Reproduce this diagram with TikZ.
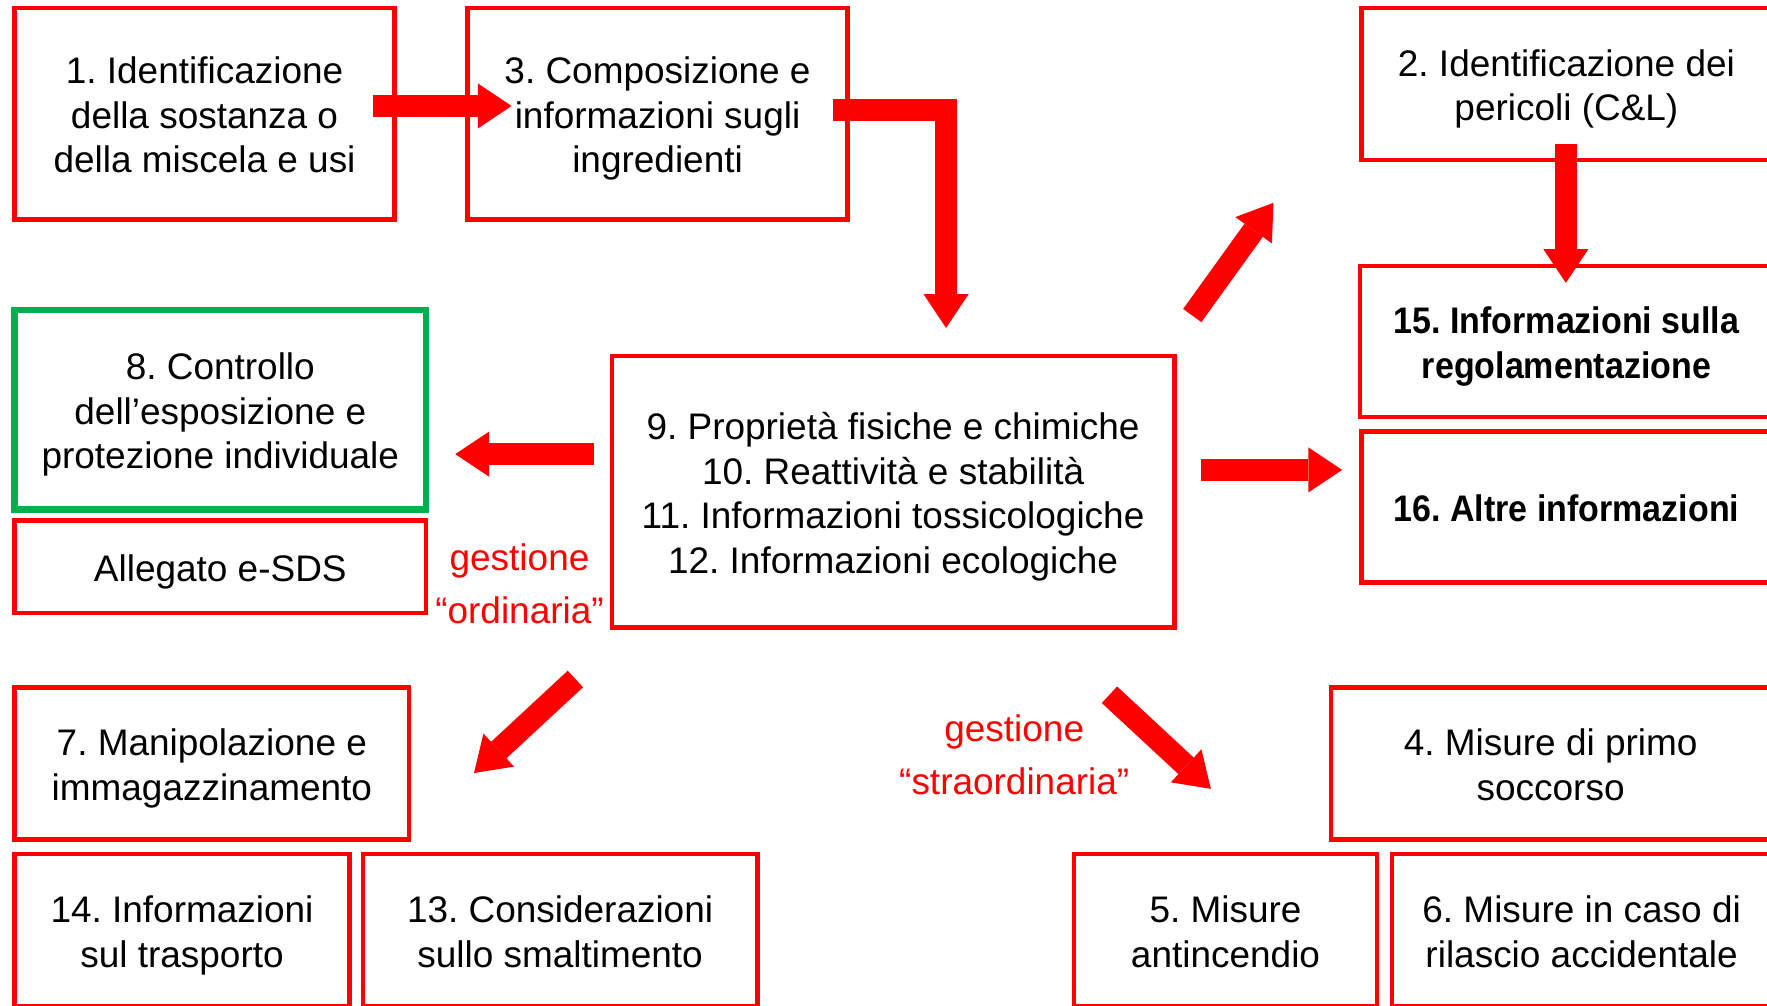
\documentclass[tikz,border=0pt]{standalone}
\usepackage{fontspec}
\setmainfont{Liberation Sans}
\newfontfamily\narrowbold{Liberation Sans}[FakeStretch=0.92]
\usetikzlibrary{positioning, arrows.meta}
\definecolor{sdsred}{rgb}{1,0,0}
\definecolor{sdsgreen}{rgb}{0,0.69,0.31}
\newcommand{\sdsstrut}{\rule{0pt}{17pt}}
\frenchspacing

\begin{document}
\begin{tikzpicture}[
  x=0.5pt, y=-0.5pt,
  every node/.style={
    align=center,
    inner sep=0pt,
    outer sep=0pt,
    font=\fontsize{16.4}{19.75}\selectfont,
    execute at end node={\rule[-4pt]{0pt}{4pt}},
  },
  box/.style={
    draw=sdsred,
    line width=2pt,
  },
  greenbox/.style={
    box,
    draw=sdsgreen,
    line width=3pt,
  },
  keybox/.style={
    box,
    font=\fontsize{16.4}{19.75}\selectfont\narrowbold\bfseries,
  },
  fatarrow/.style={
    draw=sdsred,
    line width=10pt,
    line join=miter,
    -{Triangle[length=15pt, width=20pt, line width=0pt, fill=sdsred]},
  },
  note/.style={
    text=sdsred,
    font=\fontsize{16.4}{23.5}\selectfont,
  },
]

\useasboundingbox (0,0) rectangle (1568,892);
\clip (0,0) rectangle (1568,892);

\node[box, minimum width=168.5pt, minimum height=94pt] (s1) at (181.5,101)
  {\sdsstrut 1. Identificazione\\della sostanza o\\della miscela e usi};
\node[box, minimum width=168.5pt, minimum height=94pt, right=32.5pt of s1] (s3)
  {\sdsstrut 3. Composizione e\\informazioni sugli\\ingredienti};
\node[box, minimum width=182pt, minimum height=67.5pt] (s2) at (1390,74.5)
  {\sdsstrut 2. Identificazione dei\\pericoli (C\&L)};
\node[keybox, minimum width=183pt, minimum height=67pt] (s15) at (1390,303)
  {\sdsstrut 15. Informazioni sulla\\regolamentazione};
\node[keybox, minimum width=182pt, minimum height=67pt, below=6.5pt of s15] (s16)
  {\sdsstrut 16. Altre informazioni};

\node[greenbox, minimum width=182.5pt, minimum height=88.5pt] (s8) at (195.5,363.5)
  {\sdsstrut 8. Controllo\\dell’esposizione e\\protezione individuale};
\node[box, minimum width=182.5pt, minimum height=41pt, below=5pt of s8] (esds)
  {\sdsstrut Allegato e-SDS};
\node[box, minimum width=249.5pt, minimum height=120.5pt] (core) at (792.5,436.5)
  {\sdsstrut 9. Proprietà fisiche e chimiche\\10. Reattività e stabilità\\11. Informazioni tossicologiche\\12. Informazioni ecologiche};

\node[box, minimum width=175pt, minimum height=67.5pt] (s7) at (188,677.5)
  {\sdsstrut 7. Manipolazione e\\immagazzinamento};
\node[box, minimum width=148.5pt, minimum height=67.5pt, below=6.5pt of s7.south west, anchor=north west] (s14)
  {\sdsstrut 14. Informazioni\\sul trasporto};
\node[box, minimum width=175pt, minimum height=67.5pt, right=6pt of s14] (s13)
  {\sdsstrut 13. Considerazioni\\sullo smaltimento};
\node[box, minimum width=195pt, minimum height=67.5pt] (s4) at (1376,677.5)
  {\sdsstrut 4. Misure di primo\\soccorso};
\node[box, minimum width=134.5pt, minimum height=67.5pt] (s5) at (1087.5,825.5)
  {\sdsstrut 5. Misure\\antincendio};
\node[box, minimum width=168.5pt, minimum height=67.5pt, right=6.5pt of s5] (s6)
  {\sdsstrut 6. Misure in caso di\\rilascio accidentale};

\node[note] (ordinaria) at (461,516.5) {\sdsstrut gestione\\“ordinaria”};
\node[note] (straordinaria) at (900,668.5) {\sdsstrut gestione\\“straordinaria”};

\coordinate (a1) at (331,94);
\coordinate (b1) at (454,94);
\coordinate (a2) at (739,97.5);
\coordinate (b2) at (839.5,291);
\coordinate (a3) at (1058,280);
\coordinate (b3) at (1130,180);
\coordinate (a4) at (1389.5,128);
\coordinate (b4) at (1389.5,251);
\coordinate (a5) at (527,403);
\coordinate (b5) at (404,403);
\coordinate (a6) at (1066,417);
\coordinate (b6) at (1191,417);
\coordinate (a7) at (510.6,602.5);
\coordinate (b7) at (420.6,686);
\coordinate (a8) at (984.5,616.5);
\coordinate (b8) at (1074.5,700);

\draw[fatarrow] (a1) -- (b1);
\draw[fatarrow] (a2) -| (b2);
\draw[fatarrow] (a3) -- (b3);
\draw[fatarrow] (a4) -- (b4);
\draw[fatarrow] (a5) -- (b5);
\draw[fatarrow] (a6) -- (b6);
\draw[fatarrow] (a7) -- (b7);
\draw[fatarrow] (a8) -- (b8);

\end{tikzpicture}
\end{document}
